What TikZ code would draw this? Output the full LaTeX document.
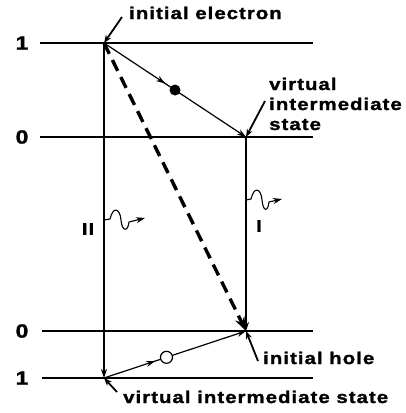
\documentclass[tikz,border=0pt]{standalone}
\usepackage{fontspec}
\setmainfont{Liberation Sans}
\newfontfamily\lblfont[FakeStretch=1.2,LetterSpace=6,FakeBold=1.5]{Liberation Sans Bold}
\usetikzlibrary{arrows.meta,decorations.markings,calc}
\tikzset{
  lvl/.style={line width=1.6pt},
  trans/.style={line width=1.2pt},
  tip/.style={-{Stealth[length=9pt,width=6pt]}},
  midtip/.style={postaction={decorate},decoration={markings,mark=at position #1 with {\arrow{Stealth[length=9pt,width=6pt]}}}},
  lbl/.style={font=\fontsize{17}{20}\lblfont,inner sep=0pt},
  numlbl/.style={font=\fontsize{19}{20}\lblfont,inner sep=0pt},
  pointer/.style={line width=1.8pt,-{Stealth[length=8pt,width=6pt]}},
  photon/.style={line width=1.1pt,-{Stealth[length=9pt,width=6pt]}},
}
\begin{document}
\begin{tikzpicture}[x=1pt,y=-1pt]
\useasboundingbox (0,0) rectangle (406,413);
% level lines
\coordinate (l1a) at (40,43);  \coordinate (l1b) at (313,43);
\coordinate (l2a) at (40,137); \coordinate (l2b) at (313,137);
\coordinate (l3a) at (42,331); \coordinate (l3b) at (313,331);
\coordinate (l4a) at (42,378); \coordinate (l4b) at (313,378);
\draw[lvl] (l1a) -- (l1b);
\draw[lvl] (l2a) -- (l2b);
\draw[lvl] (l3a) -- (l3b);
\draw[lvl] (l4a) -- (l4b);
\node[numlbl] (n1) at (22,43) {1};
\node[numlbl] (n2) at (22,137) {0};
\node[numlbl] (n3) at (22,331) {0};
\node[numlbl] (n4) at (22,378) {1};
% key points
\coordinate (A) at (104,43);
\coordinate (B) at (246,137);
\coordinate (C) at (246,331);
\coordinate (D) at (104,378);
% transitions
\draw[trans,tip] (A) -- (D);
\draw[trans,tip] (B) -- (C);
\draw[trans,tip,midtip=0.43] (A) -- (B);
\draw[trans,tip,midtip=0.36] (D) -- (C);
\draw[line width=3.4pt,dash pattern=on 12pt off 7pt,-{Stealth[length=14pt,width=10pt]}] (A) -- (C);
\node[circle,fill=black,minimum size=11pt,inner sep=0pt] (el) at ($(A)!0.5!(B)$) {};
\node[circle,draw=black,fill=white,line width=1.2pt,minimum size=12pt,inner sep=0pt] (ho) at ($(D)!0.44!(C)$) {};
% photons
\coordinate (p2s) at (104,220);
\coordinate (p2e) at (145,218);
\draw[photon] (p2s) -- (110,219) .. controls (113,206) and (120,208) .. (121,220)
  .. controls (122,232) and (128,232) .. (129,222) -- (p2e);
\coordinate (p1s) at (246,200);
\coordinate (p1e) at (282,199);
\draw[photon] (p1s) -- (251,199) .. controls (254,186) and (261,188) .. (262,200)
  .. controls (263,212) and (268,212) .. (269,202) -- (p1e);
\node[lbl] (II) at (88,229) {II};
\node[lbl] (I) at (259,226) {I};
% text labels
\node[lbl,anchor=base west] (t1) at (129,19) {initial electron};
\node[lbl,anchor=base west,align=left] (t2) at (269,130) {virtual\\intermediate\\state};
\node[lbl,anchor=base west] (t3) at (263,364) {initial hole};
\node[lbl,anchor=base west] (t4) at (123,403) {virtual intermediate state};
\coordinate (q1) at (122,17);
\coordinate (q2) at (265,101);
\coordinate (q3) at (258,361);
\coordinate (q4) at (117,392);
\draw[pointer] (q1) -- (A);
\draw[pointer] (q2) -- (B);
\draw[pointer] (q3) -- (C);
\draw[pointer] (q4) -- (D);
\end{tikzpicture}
\end{document}
